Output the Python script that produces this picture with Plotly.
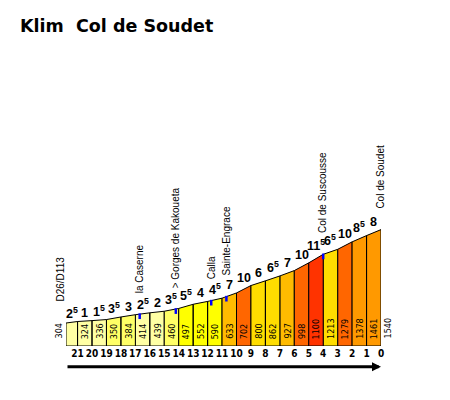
import numpy as np
import plotly.graph_objects as go

title_text = "Klim\u00a0\u00a0Col de Soudet"

# distance to summit (km) and elevation (m) at each point
km = [21.8, 21, 20, 19, 18, 17, 16, 15, 14, 13, 12, 11, 10, 9, 8, 7, 6, 5, 4, 3, 2, 1, 0]
elev = [304, 324, 336, 350, 384, 414, 439, 460, 497, 552, 590, 633, 702, 800, 862,
        927, 998, 1100, 1213, 1279, 1378, 1461, 1540]
# gradient (%) of each segment as printed
grades = [2.5, 1, 1.5, 3.5, 3, 2.5, 2, 3.5, 5.5, 4, 4.5, 7, 10, 6, 6.5, 7, 10, 11.5,
          6.5, 10, 8.5, 8]
km_ticks = [21, 20, 19, 18, 17, 16, 15, 14, 13, 12, 11, 10, 9, 8, 7, 6, 5, 4, 3, 2, 1, 0]
km_labels = [str(k) for k in km_ticks]

place_names = ["D26/D113", "la Caserne", "> Gorges de Kakoueta", "Calla",
               "Sainte-Engrace", "Col de Suscousse", "Col de Soudet"]
place_km = [21.8, 16.7, 14.2, 11.75, 10.7, 4.0, 0.0]
place_marker = [False, True, True, True, True, True, False]


def grade_color(g):
    if g < 3:
        return "#FFFFA4"
    if g < 4:
        return "#FFFF66"
    if g < 6:
        return "#FFFF00"
    if g < 7:
        return "#FFDD00"
    if g < 8:
        return "#FFBB00"
    if g < 9:
        return "#FF9900"
    if g < 11:
        return "#FF6600"
    return "#FF3300"


def grade_text(g):
    whole = int(g)
    if g - whole >= 0.5:
        return f"<b>{whole}<sup>5</sup></b>"
    return f"<b>{whole}</b>"


NARROW = "Liberation Sans Narrow, Arial Narrow, DejaVu Sans Condensed, Liberation Sans, sans-serif"
SANS = "Liberation Sans, Arial, sans-serif"

fig = go.Figure()

# segment polygons, grouped by colour class
groups = {}
for i in range(len(km) - 1):
    x0, x1 = km[i], km[i + 1]
    e0, e1 = elev[i], elev[i + 1]
    c = grade_color(grades[i])
    gx, gy = groups.setdefault(c, ([], []))
    gx.extend([x0, x0, x1, x1, x0, None])
    gy.extend([0, e0, e1, 0, 0, None])
for c, (gx, gy) in groups.items():
    fig.add_trace(go.Scatter(
        x=gx, y=gy, mode="lines", fill="toself", fillcolor=c,
        line=dict(color="black", width=1), hoverinfo="skip", showlegend=False))

annotations = []

# elevation labels
for i, e in enumerate(elev):
    if i == 0:
        xa, xanc, xs = km[0], "right", -1
    elif i == len(elev) - 1:
        xa, xanc, xs = km[-1], "left", -1
    else:
        xa, xanc, xs = (km[i] + km[i + 1]) / 2, "center", 0
    annotations.append(dict(x=xa, y=0, xref="x", yref="y", text=str(e), showarrow=False,
                            textangle=-90, xanchor=xanc, yanchor="bottom", xshift=xs, yshift=5,
                            font=dict(family=NARROW, size=9, color="black")))

# gradient labels
for i, g in enumerate(grades):
    annotations.append(dict(x=(km[i] + km[i + 1]) / 2, y=max(elev[i], elev[i + 1]),
                            xref="x", yref="y", text=grade_text(g), showarrow=False,
                            xanchor="center", yanchor="bottom", yshift=-1,
                            font=dict(family=SANS, size=12.5, color="black")))

# places
prof_x = km[::-1]
prof_y = elev[::-1]
shapes = []
for name, pk, mk in zip(place_names, place_km, place_marker):
    pe = float(np.interp(pk, prof_x, prof_y))
    xs = -5 if pk == km[0] else 0
    annotations.append(dict(x=pk, y=pe, xref="x", yref="y", text=name, showarrow=False,
                            textangle=-90, xanchor="center", yanchor="bottom",
                            xshift=xs, yshift=19,
                            font=dict(family=SANS, size=10, color="black")))
    if mk:
        shapes.append(dict(type="line", xref="x", yref="y", x0=pk, x1=pk,
                           y0=pe + 10, y1=pe - 65,
                           line=dict(color="#0000FF", width=2.5)))

# direction arrow
annotations.append(dict(x=km[-1], y=-0.069, xref="x", yref="paper",
                        ax=km[0], ay=0, axref="x", ayref="pixel",
                        text="", showarrow=True, arrowhead=2, arrowsize=0.6,
                        arrowwidth=3, arrowcolor="black", standoff=0))

# page body has an 8px margin; figure is sized/offset to compensate
W, H = 442, 392
fig.update_layout(
    width=W, height=H,
    margin=dict(l=58, r=69, t=36, b=54, pad=0),
    paper_bgcolor="white", plot_bgcolor="white",
    showlegend=False,
    xaxis=dict(range=[km[0], km[-1]], fixedrange=True,
               showgrid=False, zeroline=False, showline=False, ticks="",
               tickmode="array", tickvals=km_ticks, ticktext=[f"<b>{t}</b>" for t in km_labels],
               tickangle=0, ticklabelstandoff=0,
               tickfont=dict(family=NARROW, size=10, color="black")),
    yaxis=dict(range=[0, 3996], visible=False, fixedrange=True),
    annotations=annotations,
    shapes=shapes,
    title=dict(text=f"<b>{title_text}</b>", x=12 / W, xanchor="left", xref="container",
               y=1 - 18 / H, yanchor="middle", yref="container",
               font=dict(family="DejaVu Sans, Verdana, sans-serif", size=17.5,
                         color="black")),
)

fig.write_html("out.html")
